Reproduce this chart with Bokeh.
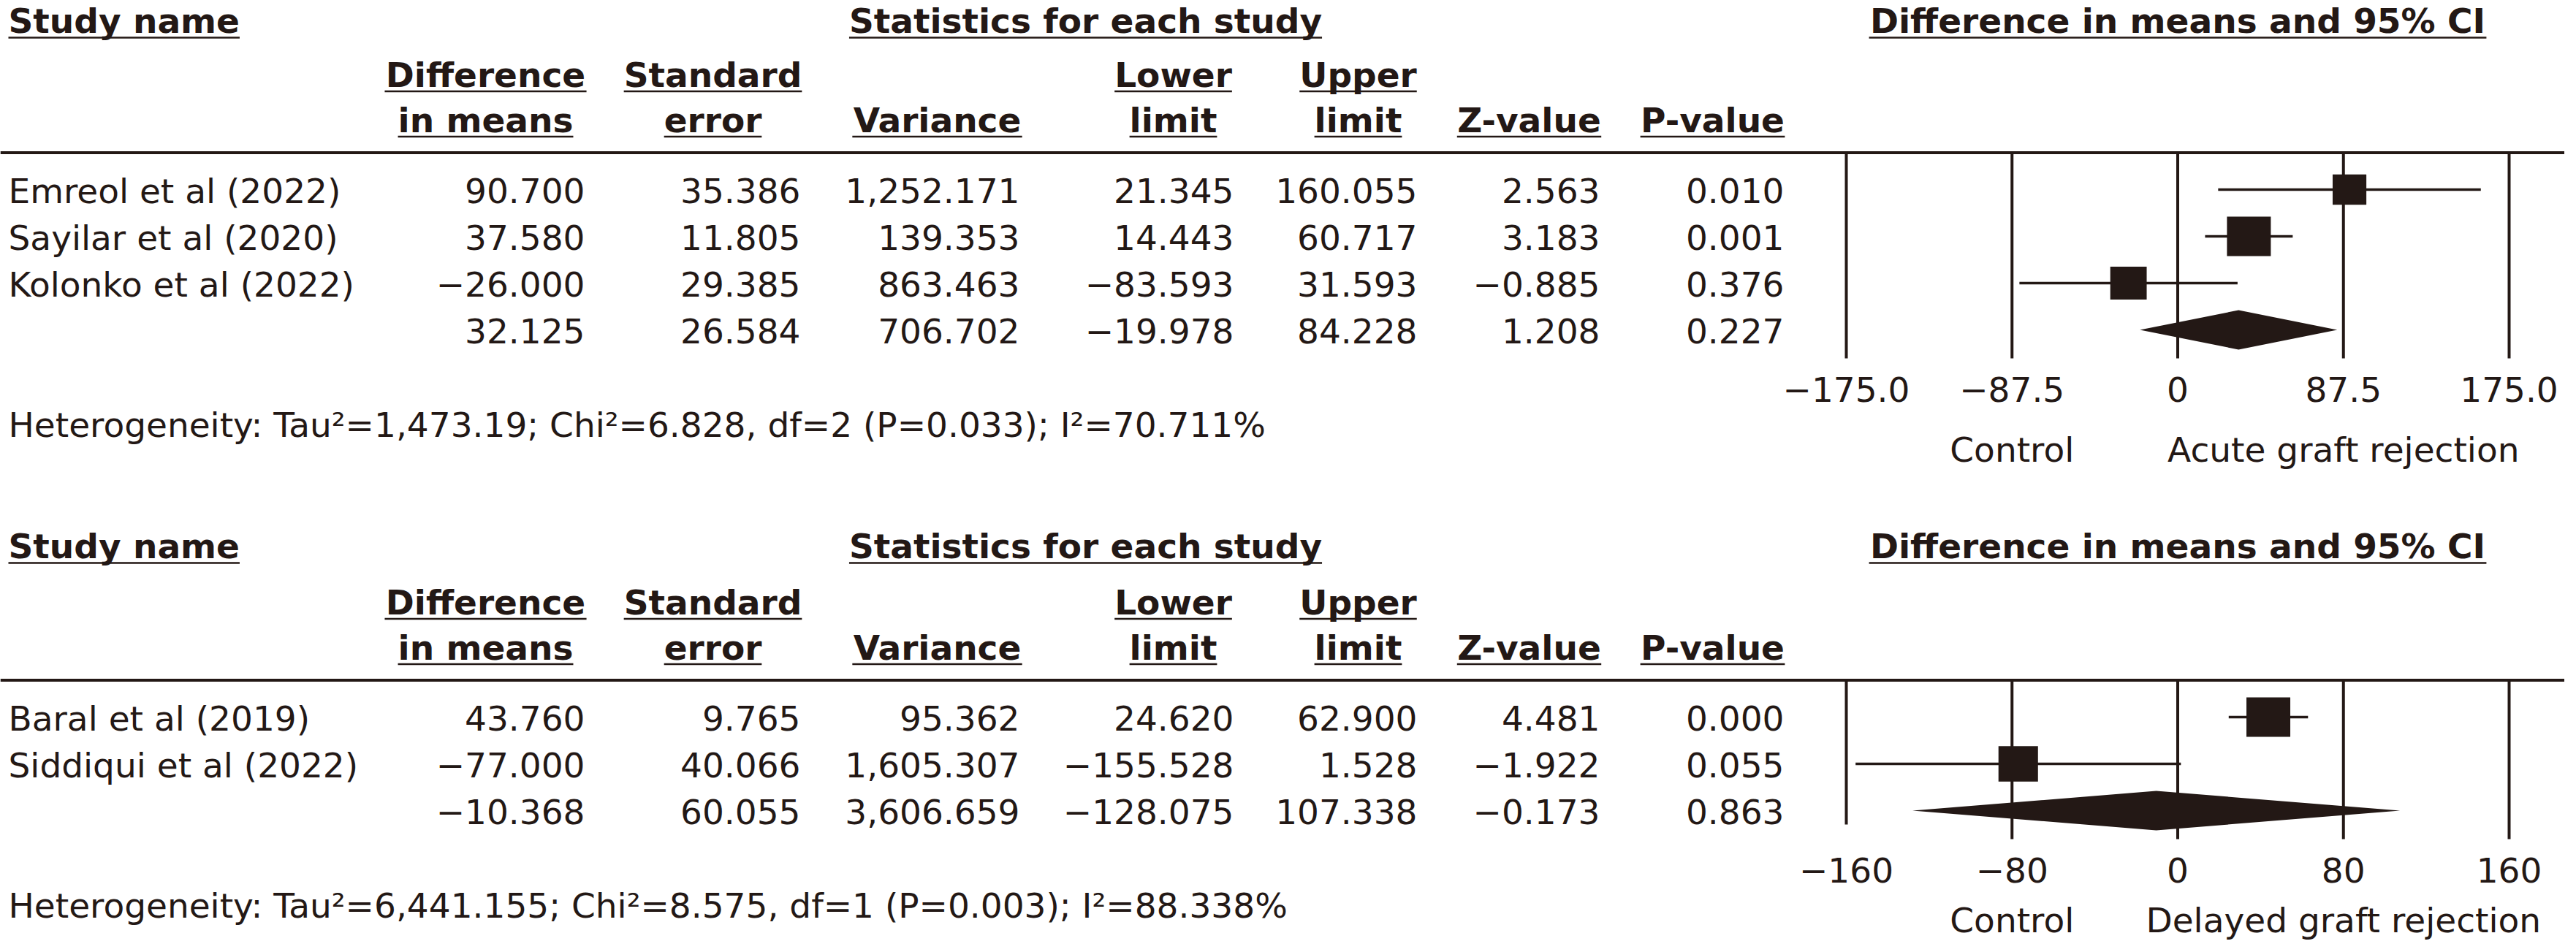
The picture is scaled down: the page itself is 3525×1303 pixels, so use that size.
import math
from bokeh.plotting import figure
from bokeh.models import Range1d
from bokeh.core.properties import value
from bokeh.embed import file_html
from bokeh.resources import INLINE

# ------------------------------------------------------------------ data
col_names_top = ["Difference", "Standard", "", "Lower", "Upper", "", ""]
col_names_bot = ["in means", "error", "Variance", "limit", "limit", "Z-value", "P-value"]

studies_1 = ["Emreol et al (2022)", "Sayilar et al (2020)", "Kolonko et al (2022)"]
diff_1 = [90.700, 37.580, -26.000]
se_1 = [35.386, 11.805, 29.385]
var_1 = [1252.171, 139.353, 863.463]
lower_1 = [21.345, 14.443, -83.593]
upper_1 = [160.055, 60.717, 31.593]
z_1 = [2.563, 3.183, -0.885]
p_1 = [0.010, 0.001, 0.376]
pooled_1 = [32.125, 26.584, 706.702, -19.978, 84.228, 1.208, 0.227]
tau2_1 = 1473.19
het_1 = "Heterogeneity: Tau\u00b2=1,473.19; Chi\u00b2=6.828, df=2 (P=0.033); I\u00b2=70.711%"
ticks_1 = [-175.0, -87.5, 0.0, 87.5, 175.0]
tick_labels_1 = ["\u2212175.0", "\u221287.5", "0", "87.5", "175.0"]
favours_1 = ["Control", "Acute graft rejection"]

studies_2 = ["Baral et al (2019)", "Siddiqui et al (2022)"]
diff_2 = [43.760, -77.000]
se_2 = [9.765, 40.066]
var_2 = [95.362, 1605.307]
lower_2 = [24.620, -155.528]
upper_2 = [62.900, 1.528]
z_2 = [4.481, -1.922]
p_2 = [0.000, 0.055]
pooled_2 = [-10.368, 60.055, 3606.659, -128.075, 107.338, -0.173, 0.863]
tau2_2 = 6441.155
het_2 = "Heterogeneity: Tau\u00b2=6,441.155; Chi\u00b2=8.575, df=1 (P=0.003); I\u00b2=88.338%"
ticks_2 = [-160, -80, 0, 80, 160]
tick_labels_2 = ["\u2212160", "\u221280", "0", "80", "160"]
favours_2 = ["Control", "Delayed graft rejection"]

# ------------------------------------------------------------------ layout / style
W, H, OFF = 3509, 1287, 0
INK = "#231815"
FONT = value("DejaVu Sans")
FS = 47
FSZ = value(f"{FS}px")
TDY = -16.5                   # correction of the rendered text baseline
X0, HALF = 2979.5, 453.5      # pixel position of 0 and half-span of the forest axis
col_right = [800, 1095, 1395, 1688, 1939, 2189, 2441]
col_center = [664, 975, 1282, 1605, 1858, 2092, 2343]
stats_center = 1485
name_x = 11

# DejaVu Sans Bold advance widths (em) for underline lengths
BOLD_ADV = {' ': .348, 'S': .720, 't': .478, 'u': .712, 'd': .716, 'y': .652, 'n': .712,
            'a': .675, 'm': 1.042, 'e': .678, 'D': .830, 'i': .343, 'f': .435, 'r': .493,
            'c': .593, 'o': .687, 'l': .343, 'V': .774, 'L': .637, 'w': .924, 'U': .812,
            'p': .716, 'Z': .725, 'v': .652, '-': .415, 'P': .733, 'h': .712, 's': .595,
            '9': .696, '5': .696, '%': 1.002, 'C': .734, 'I': .372}


def bold_width(s):
    return sum(BOLD_ADV.get(c, 0.65) for c in s) * FS


def fmt(v):
    return f"{v:,.3f}".replace("-", "\u2212")


p = figure(width=W, height=H, output_backend="svg", toolbar_location=None,
           x_range=Range1d(OFF, OFF + W), y_range=Range1d(OFF + H, OFF),
           min_border=0, x_axis_location=None, y_axis_location=None,
           background_fill_color="white", border_fill_color="white")
p.outline_line_color = None
p.xgrid.visible = False
p.ygrid.visible = False


def txt(x, y, t, align="left", bold=False, rng=None):
    kw = dict(x=x, y=[v + TDY for v in y], text=t, text_font=FONT, text_font_size=FSZ,
              text_color=INK, text_align=align, text_baseline="alphabetic")
    if bold:
        kw["text_font_style"] = "bold"
    if rng:
        kw["x_range_name"] = rng
    p.text(**kw)


def underline(xs0, xs1, y):
    p.segment(x0=xs0, x1=xs1, y0=[y] * len(xs0), y1=[y] * len(xs0), line_color=INK, line_width=2.5)


def panel(T, rng, rmax, studies, cols, pooled, tau2, het, ticks, tick_labels, favours,
          short_first=0, title_drop=0.0, bottom_lift=0.0):
    p.extra_x_ranges[rng] = Range1d((OFF - X0) / HALF * rmax, (OFF + W - X0) / HALF * rmax)
    title_b, h1_b, h2_b, line_y = T + 41.5 + title_drop, T + 118, T + 180, T + 208.5
    n = len(studies)
    rows = [T + 259 + 64 * k for k in range(n + 1)]
    last = rows[-1]

    # titles
    txt([name_x], [title_b], ["Study name"], bold=True)
    underline([name_x], [name_x + bold_width("Study name")], title_b + 6.5)
    txt([stats_center], [title_b], ["Statistics for each study"], align="center", bold=True)
    w = bold_width("Statistics for each study")
    underline([stats_center - w / 2], [stats_center + w / 2], title_b + 6.5)
    t3 = "Difference in means and 95% CI"
    txt([0], [title_b], [t3], align="center", bold=True, rng=rng)
    w = bold_width(t3)
    underline([X0 - w / 2], [X0 + w / 2], title_b + 6.5)

    # column headers
    for names, yb in ((col_names_top, h1_b), (col_names_bot, h2_b)):
        xs = [c for c, s in zip(col_center, names) if s]
        ts = [s for s in names if s]
        txt(xs, [yb] * len(xs), ts, align="center", bold=True)
        ws = [bold_width(s) for s in ts]
        underline([x - ww / 2 for x, ww in zip(xs, ws)], [x + ww / 2 for x, ww in zip(xs, ws)], yb + 6.5)

    # rule
    p.segment(x0=[0], x1=[3525], y0=[line_y], y1=[line_y], line_color=INK, line_width=4)

    # study names and statistics
    txt([name_x] * n, [r + 18 for r in rows[:n]], studies)
    for j in range(7):
        vals = [fmt(c) for c in cols[j]] + [fmt(pooled[j])]
        txt([col_right[j]] * (n + 1), [r + 18 for r in rows], vals, align="right")

    # forest grid lines and tick labels
    gb = [last + 39] * len(ticks)
    gb[0] -= short_first
    p.segment(x0=ticks, x1=ticks, y0=[line_y] * len(ticks), y1=gb, line_color=INK,
              line_width=4, x_range_name=rng)
    txt(ticks, [last + 97.5] * len(ticks), tick_labels, align="center", rng=rng)
    txt([-rmax / 2, rmax / 2], [last + 180 - bottom_lift] * 2, favours, align="center", rng=rng)
    txt([name_x], [last + 146], [het])

    # CI lines and boxes
    diff, lo, up, var = cols[0], cols[3], cols[4], cols[2]
    p.segment(x0=lo, x1=up, y0=rows[:n], y1=rows[:n], line_color=INK, line_width=3.7,
              x_range_name=rng)
    wts = [1.0 / (v + tau2) for v in var]
    rel = [math.sqrt(wt / max(wts)) for wt in wts]
    p.rect(x=diff, y=rows[:n], width=[60 * r for r in rel], height=[54 * r for r in rel],
           width_units="screen", height_units="screen", fill_color=INK, line_color=None,
           x_range_name=rng)

    # pooled diamond
    p.patch(x=[pooled[3], pooled[0], pooled[4], pooled[0]],
            y=[last, last - 27, last, last + 27], fill_color=INK, line_color=None,
            x_range_name=rng)


panel(0, "f1", 175.0, studies_1, [diff_1, se_1, var_1, lower_1, upper_1, z_1, p_1],
      pooled_1, tau2_1, het_1, ticks_1, tick_labels_1, favours_1, title_drop=3.0)
panel(722, "f2", 160.0, studies_2, [diff_2, se_2, var_2, lower_2, upper_2, z_2, p_2],
      pooled_2, tau2_2, het_2, ticks_2, tick_labels_2, favours_2, short_first=20,
      bottom_lift=13.5)

open("out.html", "w").write(file_html(p, INLINE))
